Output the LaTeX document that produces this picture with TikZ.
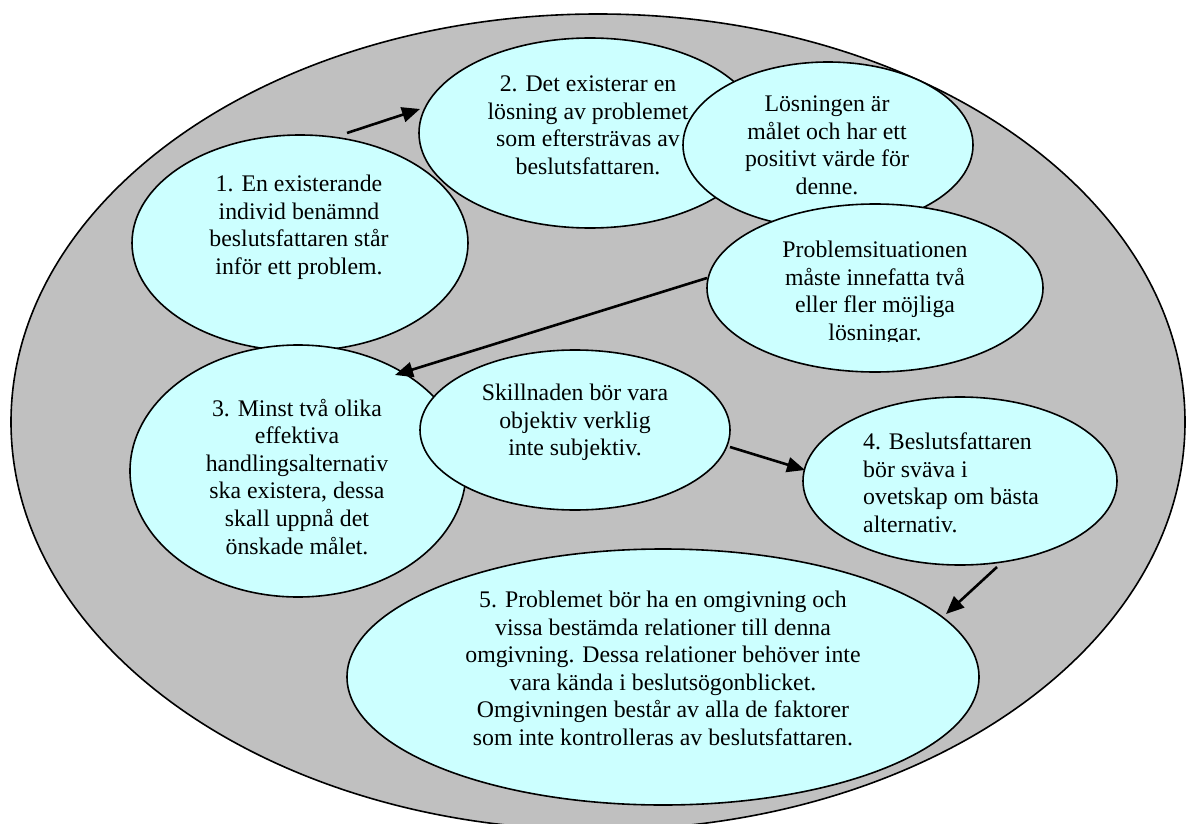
\documentclass[tikz,border=0pt]{standalone}
\usepackage{fontspec}
\setmainfont{Liberation Serif}
\usetikzlibrary{shapes.geometric,arrows.meta}
\definecolor{bubblecyan}{HTML}{CCFFFF}
\definecolor{framegray}{HTML}{C0C0C0}

\begin{document}
\begin{tikzpicture}[x=1pt,y=-1pt,
  bubble/.style={ellipse,draw=black,line width=1.6pt,fill=bubblecyan,inner sep=0pt},
  txt/.style={align=center,font=\fontsize{23.8}{27.6}\selectfont,inner sep=0pt,
    anchor=north,execute at begin node=\strut},
  arr/.style={line width=2.6pt,-{Triangle[length=18pt,width=15pt]}}]

\useasboundingbox (0,0) rectangle (1186,824);
\clip (0,0) rectangle (1186,824);

% outer frame
\node[ellipse,draw=black,line width=1.6pt,fill=framegray,inner sep=0pt,
  minimum width=1174pt,minimum height=816pt] (frame) at (598,422) {};

% bubbles
\node[bubble,minimum width=336pt,minimum height=216pt] (e1) at (300,243) {};
\node[bubble,minimum width=342pt,minimum height=190pt] (e2) at (590,133) {};
\node[bubble,minimum width=290pt,minimum height=166pt] (goal) at (828,145) {};
\node[bubble,minimum width=336pt,minimum height=168pt] (sit) at (875,288) {};
\node[bubble,minimum width=336pt,minimum height=252pt] (e3) at (298,471) {};
\node[bubble,minimum width=310pt,minimum height=160pt] (diff) at (575,430) {};
\node[bubble,minimum width=314pt,minimum height=168pt] (e4) at (960,481) {};
\node[bubble,minimum width=632pt,minimum height=256pt] (e5) at (663,677) {};

% texts
\node[txt] (t1) at (299,174.7) {1. En existerande\\individ benämnd\\beslutsfattaren står\\inför ett problem.};
\node[txt] (t2) at (588,75.7) {2. Det existerar en\\lösning av problemet\\som eftersträvas av\\beslutsfattaren.};
\node[txt] (tgoal) at (827,95.7) {Lösningen är\\målet och har ett\\positivt värde för\\denne.};
\begin{scope}
  \clip (700,200) rectangle (1060,341.5);
  \node[txt] (tsit) at (875,240.7) {Problemsituationen\\måste innefatta två\\eller fler möjliga\\lösningar.};
\end{scope}
\node[txt] (t3) at (297,398.7) {3. Minst två olika\\effektiva\\handlingsalternativ\\ska existera, dessa\\skall uppnå det\\önskade målet.};
\node[txt] (tdiff) at (575,383.7) {Skillnaden bör vara\\objektiv verklig\\inte subjektiv.};
\node[txt,anchor=north west,align=left] (t4) at (863,432.7) {4. Beslutsfattaren\\bör sväva i\\ovetskap om bästa\\alternativ.};
\node[txt] (t5) at (663,590.7) {5. Problemet bör ha en omgivning och\\vissa bestämda relationer till denna\\omgivning. Dessa relationer behöver inte\\vara kända i beslutsögonblicket.\\Omgivningen består av alla de faktorer\\som inte kontrolleras av beslutsfattaren.};

% arrow end points beside the bubbles
\coordinate (e1-out) at (347,133);
\coordinate (e2-in) at (420,109);
\coordinate (sit-out) at (707,278);
\coordinate (e3-in) at (395,375);
\coordinate (diff-out) at (730,447);
\coordinate (e4-in) at (805,470);
\coordinate (e4-out) at (997,567);
\coordinate (e5-in) at (946,614);

\draw[arr] (e1-out) -- (e2-in);
\draw[arr] (sit-out) -- (e3-in);
\draw[arr] (diff-out) -- (e4-in);
\draw[arr] (e4-out) -- (e5-in);
\end{tikzpicture}
\end{document}
